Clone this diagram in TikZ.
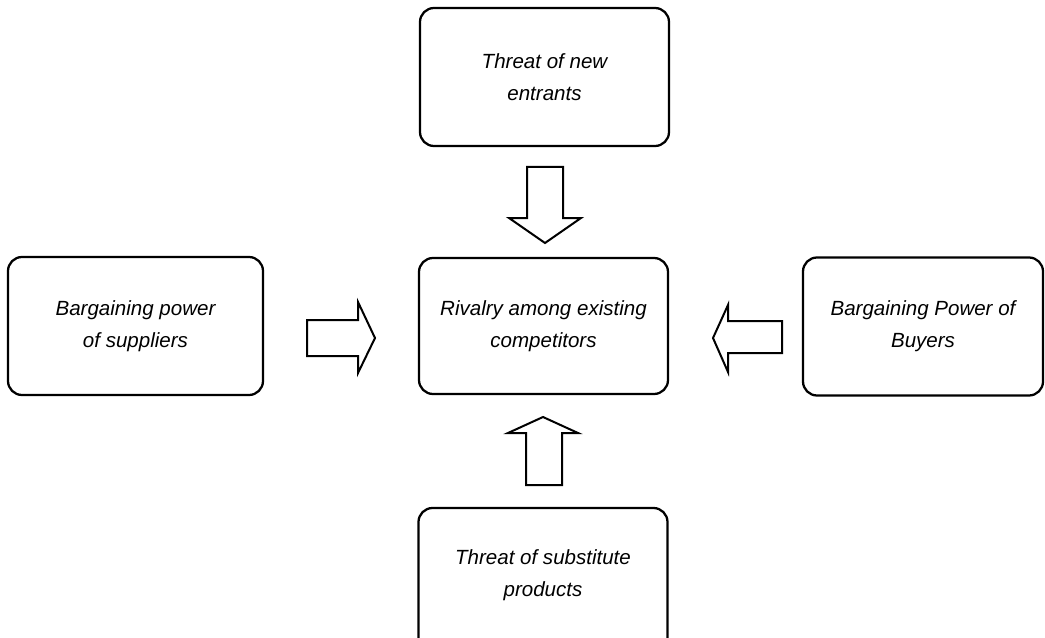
\documentclass[tikz,border=0pt]{standalone}
\usepackage{fontspec}
\setmainfont{Liberation Sans}

\begin{document}
\begin{tikzpicture}[x=0.75pt,y=0.75pt,yscale=-1,xscale=1,
	force/.style={draw, line width=1.7pt, rounded corners=10.5pt, align=center,
		minimum width=186.75pt, minimum height=103.5pt, inner sep=0pt,
		font=\fontsize{15.4}{24}\selectfont\itshape},
	blockarrow/.style={draw, line width=1.5pt, line join=miter}]
		\clip (0,0) rectangle (1045,638);
		
		% Boxes
		\node [force] (entrants) at (544.5,77) {Threat of new\\entrants};
		\node [force, minimum width=191.25pt] (suppliers) at (135.5,326) {Bargaining power\\of suppliers};
		\node [force, minimum height=102pt] (rivalry) at (543.5,326) {Rivalry among existing\\competitors};
		\node [force, minimum width=180pt] (buyers) at (923,326.5) {Bargaining Power of\\Buyers};
		\node [force, minimum height=112.5pt, text depth=15pt] (substitutes) at (543,583) {Threat of substitute\\products};
		
		% Block arrows
		\draw [blockarrow] (527,167) -- (563,167) -- (563,218) -- (581,218) -- (545,243) -- (509,218) -- (527,218) -- cycle ;
		\draw [blockarrow] (307,320) -- (358,320) -- (358,302) -- (375,338) -- (358,373) -- (358,356) -- (307,356) -- cycle ;
		\draw [blockarrow] (782,321) -- (728,321) -- (728,305) -- (713,338) -- (728,372) -- (728,353) -- (782,353) -- cycle ;
		\draw [blockarrow] (526,485) -- (526,433) -- (508,433) -- (543,417) -- (578,433) -- (562,433) -- (562,485) -- cycle ;
		
\end{tikzpicture}
\end{document}
